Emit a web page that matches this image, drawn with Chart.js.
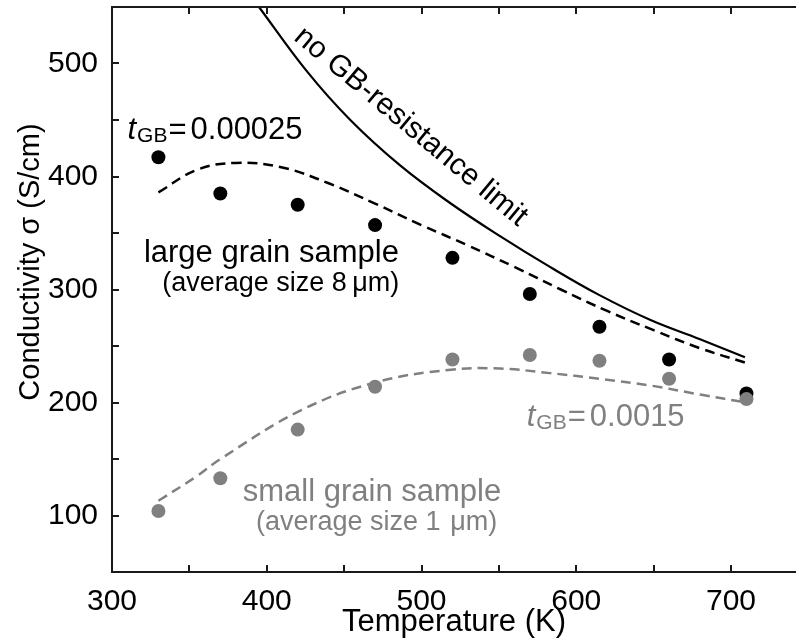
<!DOCTYPE html>
<html>
<head>
<meta charset="utf-8">
<script src="https://cdn.jsdelivr.net/npm/chart.js@4.4.1/dist/chart.umd.min.js"></script>
<style>
  html, body { margin: 0; padding: 0; background: #fff; }
  canvas { display: block; }
</style>
</head>
<body>
<canvas id="myChart" width="796" height="638"></canvas>
<script>
// measured points, temperature in K, conductivity in S/cm
const tempPoints = [330, 370, 420, 470, 520, 570, 615, 660, 710];
const largeGrain = [417, 385, 375, 357, 328, 296, 267, 238, 208];
const smallGrain = [104, 133, 176, 214, 238, 242, 237, 221, 203];

// no GB-resistance limit
const limitT = [395, 426, 454, 486, 518, 551, 583, 615, 648, 680, 709];
const limitS = [550, 493, 450, 410, 377, 347, 320, 295, 273, 256, 240];

// fit, t_GB = 0.00025
const fitLargeT = [330, 355, 380, 410, 440, 470, 500, 530, 560, 590, 620, 650, 680, 710];
const fitLargeS = [386, 406, 412, 408, 394, 376, 357, 339, 320, 300, 281, 264, 248, 235];

// fit, t_GB = 0.0015
const fitSmallT = [330, 355, 370, 422, 471, 519, 551, 583, 615, 648, 680, 710];
const fitSmallS = [113, 135, 150, 193, 218, 229, 230, 226, 221, 215, 207, 200];

const xTicks = [300, 400, 500, 600, 700];
const yTicks = [100, 200, 300, 400, 500];

const GREY = '#808080';
const FONT = '"Liberation Sans", Arial, sans-serif';

function pts(xs, ys) {
    return xs.map((x, i) => ({ x: x, y: ys[i] }));
}

// frame, inward ticks and the text labels
const decorations = {
    id: 'decorations',
    afterDatasetsDraw(chart) {
        const ctx = chart.ctx;
        const a = chart.chartArea;
        const xs = chart.scales.x;
        const ys = chart.scales.y;
        ctx.save();
        ctx.strokeStyle = '#1a1a1a';
        ctx.lineWidth = 2;
        ctx.beginPath();
        ctx.moveTo(a.right, a.top);
        ctx.lineTo(a.left, a.top);
        ctx.lineTo(a.left, a.bottom);
        ctx.lineTo(a.right, a.bottom);
        for (let v = 350; v < xs.max; v += 50) {
            const px = Math.round(xs.getPixelForValue(v));
            ctx.moveTo(px, a.bottom);
            ctx.lineTo(px, a.bottom - 7);
            ctx.moveTo(px, a.top);
            ctx.lineTo(px, a.top + 7);
        }
        for (let v = 100; v < ys.max; v += 50) {
            const py = Math.round(ys.getPixelForValue(v));
            ctx.moveTo(a.left, py);
            ctx.lineTo(a.left + 7, py);
        }
        ctx.stroke();

        const X = v => xs.getPixelForValue(v);
        const Y = v => ys.getPixelForValue(v);

        ctx.textBaseline = 'alphabetic';
        ctx.textAlign = 'center';
        ctx.fillStyle = '#000';
        ctx.font = '31px ' + FONT;
        ctx.fillText('large grain sample', X(403), Y(324));
        ctx.font = '27px ' + FONT;
        ctx.fillText('(average size 8\u2009\u03bcm)', X(409), Y(299));

        ctx.fillStyle = GREY;
        ctx.font = '31px ' + FONT;
        ctx.fillText('small grain sample', X(468), Y(113));
        ctx.font = '27px ' + FONT;
        ctx.fillText('(average size 1 \u200a\u03bcm)', X(471), Y(87));

        tgb(ctx, '0.00025', X(310), Y(433), '#000');
        tgb(ctx, '0.0015', X(568), Y(179), GREY);

        // label along the limit curve
        ctx.fillStyle = '#000';
        ctx.font = '30px ' + FONT;
        ctx.textBaseline = 'middle';
        ctx.translate(X(493), Y(444));
        ctx.rotate(39.8 * Math.PI / 180);
        ctx.fillText('no GB-resistance limit', 0, 0);
        ctx.restore();

        // y axis title
        ctx.save();
        ctx.fillStyle = '#000';
        ctx.font = '29px ' + FONT;
        ctx.textAlign = 'center';
        ctx.textBaseline = 'middle';
        ctx.translate(31, 262);
        ctx.rotate(-Math.PI / 2);
        ctx.fillText('Conductivity \u03c3 (S/cm)', 0, 0);
        ctx.restore();
    }
};

function tgb(ctx, value, x, y, color) {
    ctx.save();
    ctx.fillStyle = color;
    ctx.textAlign = 'left';
    ctx.textBaseline = 'alphabetic';
    ctx.font = 'italic 31px ' + FONT;
    ctx.fillText('t', x, y);
    x += ctx.measureText('t').width + 1;
    ctx.font = '21px ' + FONT;
    ctx.fillText('GB', x, y + 3);
    x += ctx.measureText('GB').width + 1;
    ctx.font = '31px ' + FONT;
    ctx.fillText('=', x, y);
    x += ctx.measureText('=').width + 4;
    ctx.fillText(value, x, y);
    ctx.restore();
}

const data = {
    datasets: [
        {
            data: pts(tempPoints, smallGrain),
            backgroundColor: GREY,
            pointRadius: 7,
            pointBorderWidth: 0,
            showLine: false,
            order: 0
        },
        {
            data: pts(tempPoints, largeGrain),
            backgroundColor: '#000',
            pointRadius: 7,
            pointBorderWidth: 0,
            showLine: false,
            order: 1
        },
        {
            data: pts(limitT, limitS),
            borderColor: '#000',
            borderWidth: 2.2,
            pointRadius: 0,
            showLine: true,
            tension: 0.4,
            order: 2
        },
        {
            data: pts(fitLargeT, fitLargeS),
            borderColor: '#000',
            borderWidth: 2.5,
            borderDash: [10, 6],
            pointRadius: 0,
            showLine: true,
            tension: 0.4,
            order: 3
        },
        {
            data: pts(fitSmallT, fitSmallS),
            borderColor: GREY,
            borderWidth: 2.5,
            borderDash: [10, 6],
            pointRadius: 0,
            showLine: true,
            tension: 0.4,
            order: 4
        }
    ]
};

const config = {
    type: 'scatter',
    data: data,
    options: {
        responsive: false,
        animation: false,
        devicePixelRatio: 1,
        layout: {
            autoPadding: false,
            padding: { top: 7, right: 0, left: 0, bottom: 0 }
        },
        plugins: {
            legend: { display: false },
            tooltip: { enabled: false }
        },
        scales: {
            x: {
                type: 'linear',
                min: 300,
                max: 742,
                grid: { display: false, drawTicks: false },
                border: { display: false },
                afterBuildTicks: s => { s.ticks = xTicks.map(v => ({ value: v })); },
                afterFit: s => {
                    s.height = 66;
                    s.paddingLeft = 0;
                    s.paddingRight = 0;
                },
                ticks: {
                    color: '#000',
                    padding: 12,
                    maxRotation: 0,
                    font: { family: FONT, size: 30 }
                },
                title: {
                    display: true,
                    text: 'Temperature (K)',
                    color: '#000',
                    padding: { top: 0, bottom: 0 },
                    font: { family: FONT, size: 31, lineHeight: 1 }
                }
            },
            y: {
                type: 'linear',
                min: 50,
                max: 550,
                grid: { display: false, drawTicks: false },
                border: { display: false },
                afterBuildTicks: s => { s.ticks = yTicks.map(v => ({ value: v })); },
                afterFit: s => {
                    s.width = 112;
                    s.paddingTop = 0;
                    s.paddingBottom = 0;
                },
                ticks: {
                    color: '#000',
                    padding: 14,
                    font: { family: FONT, size: 30 }
                }
            }
        }
    },
    plugins: [decorations]
};

const myChart = new Chart(document.getElementById('myChart'), config);
</script>
</body>
</html>
